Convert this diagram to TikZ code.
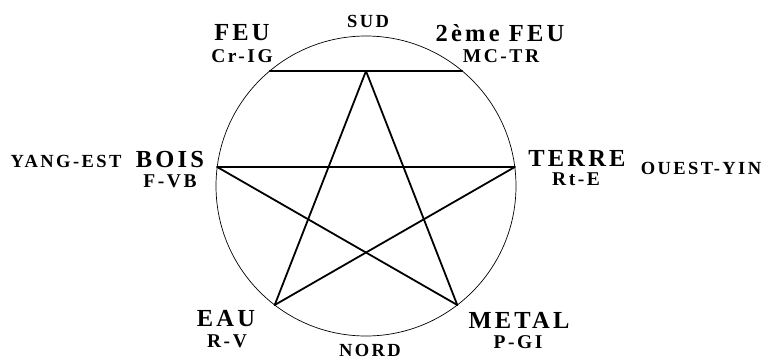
\documentclass[tikz,border=0pt]{standalone}
\usepackage{fontspec}
\setmainfont{Liberation Serif}
\newfontfamily\lblfont[LetterSpace=13]{Liberation Serif Bold}
\tikzset{
  big/.style={font=\lblfont\fontsize{24.5}{24.5}\selectfont, inner sep=0pt, anchor=center},
  small/.style={font=\lblfont\fontsize{19.5}{19.5}\selectfont, inner sep=0pt, anchor=center},
  dir/.style={font=\lblfont\fontsize{18.5}{18.5}\selectfont, inner sep=0pt, anchor=center},
  starline/.style={line width=1.8pt, line cap=round, line join=round},
  ring/.style={draw, circle, line width=0.7pt, inner sep=0pt, minimum size=300pt}
}
\begin{document}
\begin{tikzpicture}[x=1pt,y=-1pt]
\useasboundingbox (0,0) rectangle (764,360);
\node[ring] (ring) at (366,186) {};
\coordinate (L) at (269.7,71);
\coordinate (R) at (462.3,71);
\coordinate (apex) at (366,71);
\coordinate (bois) at (217.2,167);
\coordinate (terre) at (514.8,167);
\coordinate (eau) at (274.7,305);
\coordinate (metal) at (457.3,305);
\draw[starline] (L) -- (R);
\draw[starline] (eau) -- (apex) -- (metal);
\draw[starline] (bois) -- (terre);
\draw[starline] (bois) -- (metal);
\draw[starline] (terre) -- (eau);
% labels
\node[big] (feu) at (242,33) {FEU};
\node[small] (crig) at (242,56) {Cr-IG};
\node[big] (feu2) at (500,33) {2ème FEU};
\node[small] (mctr) at (501,56) {MC-TR};
\node[dir] (sud) at (368,21) {SUD};
\node[big] (boisl) at (170,160) {BOIS};
\node[small] (fvb) at (170,181) {F-VB};
\node[dir] (yang) at (66,161) {YANG-EST};
\node[big] (terrel) at (577,158) {TERRE};
\node[small] (rte) at (576,179) {Rt-E};
\node[dir] (ouest) at (701,168) {OUEST-YIN};
\node[big] (eaul) at (226,319) {EAU};
\node[small] (rv) at (227,341) {R-V};
\node[big] (metall) at (519,320) {METAL};
\node[small] (pgi) at (518,342) {P-GI};
\node[dir] (nord) at (370,350) {NORD};
\end{tikzpicture}
\end{document}
